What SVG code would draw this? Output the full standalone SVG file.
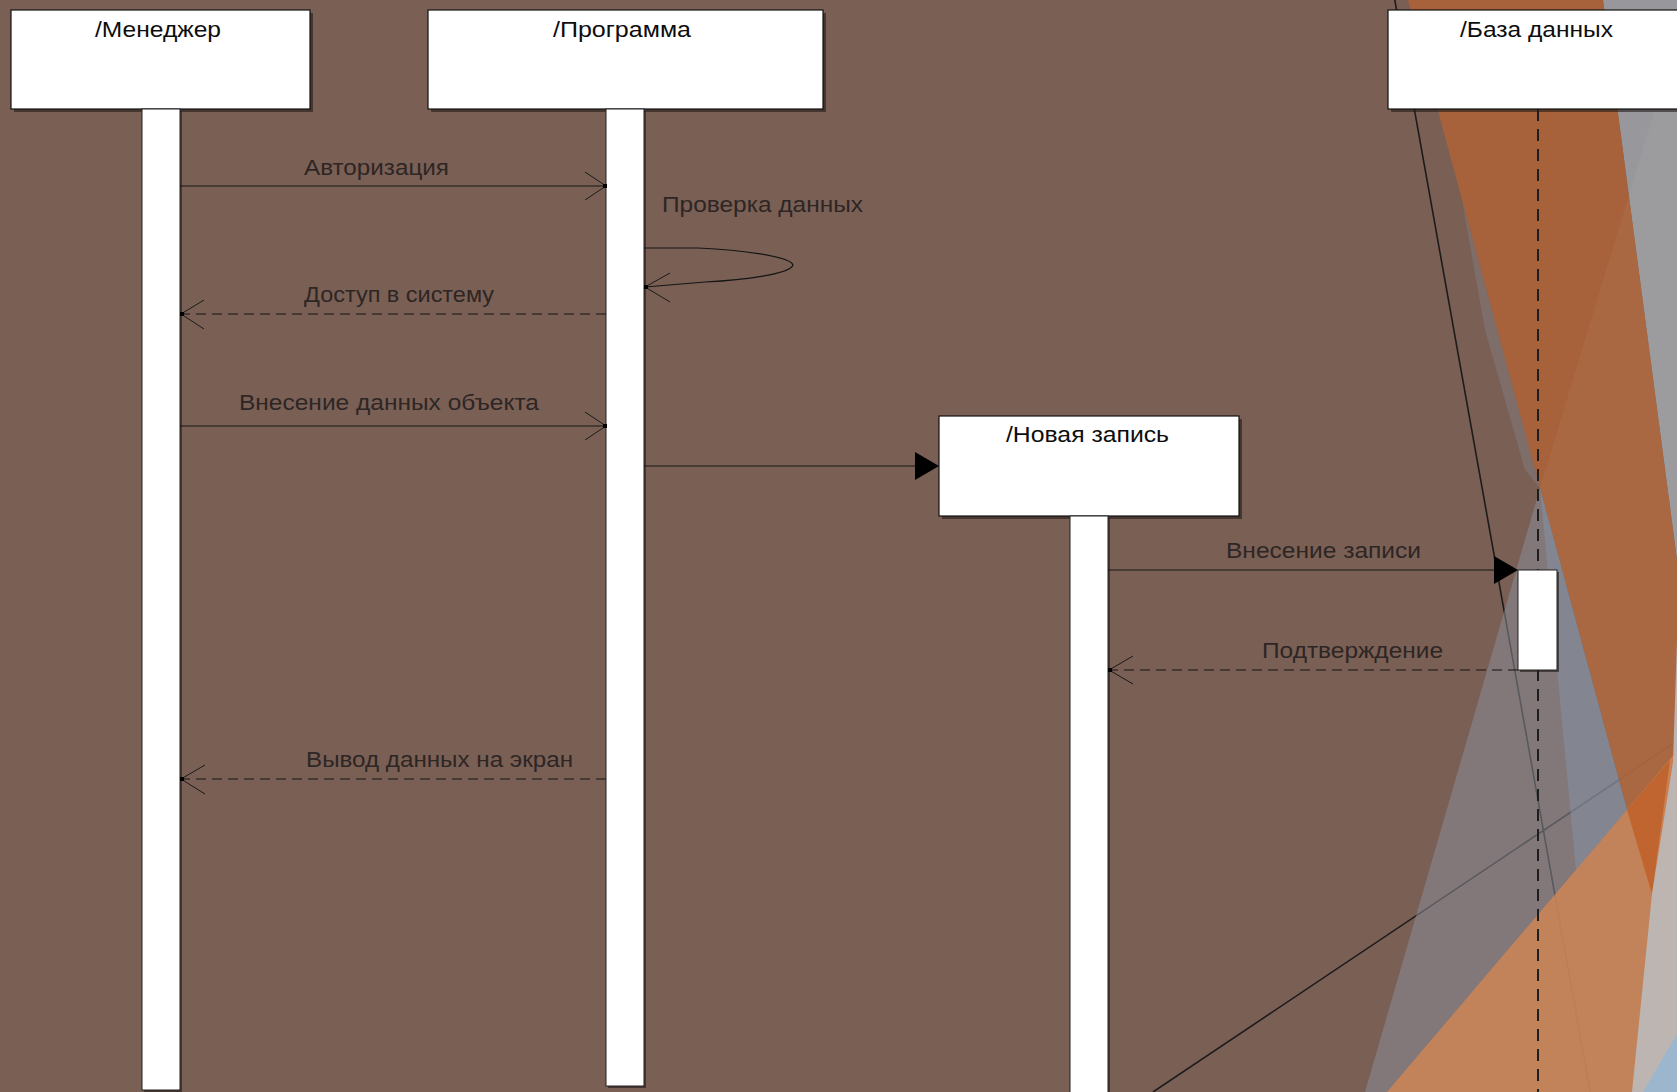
<svg xmlns="http://www.w3.org/2000/svg" width="1677" height="1092" viewBox="0 0 1677 1092">
<defs>
<style>
.box{fill:#fff;stroke:#111;stroke-width:1.2}
.shadow{fill:#231a17;opacity:.6}
.bar{fill:#fff;stroke:#222;stroke-width:1}
.hdr{font-family:"Liberation Sans Narrow","Liberation Sans",Arial,sans-serif;font-size:22px;fill:#0d0d0d}
.lbl{font-family:"Liberation Sans Narrow","Liberation Sans",Arial,sans-serif;font-size:22px;fill:#2d2624}
.msg{stroke:#151515;stroke-width:1.2;fill:none}
.dash{stroke-dasharray:10 6}
.open{stroke:#1a1a1a;stroke-width:1;fill:none}
.tri{fill:#000}
.dot{fill:#000}
</style>
</defs>
<rect width="1677" height="1092" fill="#7a5f55"/>
<g id="background">
  <line x1="1393" y1="-10" x2="1592" y2="1102" stroke="#1c1c1c" stroke-width="1.6"/>
  <line x1="1153" y1="1092" x2="1677" y2="741" stroke="#1c1c1c" stroke-width="1.6"/>
  <polygon points="1603,0 1677,0 1677,560" fill="#98979b"/>
  <polygon points="1408,0 1603,0 1677,560 1677,994" fill="#aa6339" opacity=".92"/>
  <polygon points="1540,488 1677,37 1677,994" fill="#ffffff" opacity=".04"/>
  <polygon points="1462,200 1485,330 1525,470 1540,488" fill="#8a8d97" opacity=".3"/>
  <polygon points="1540,488 1365,1092 1677,1092 1677,994" fill="#8a8d97" opacity=".55"/>
  <polygon points="1540,488 1576,870 1627,810" fill="#8492a7" opacity=".5"/>
  <polygon points="1387,1092 1677,751 1677,1092" fill="#cf8555" opacity=".85"/>
  <polygon points="1627,810 1670,760 1652,894" fill="#c0652f"/>
  <polygon points="1677,640 1673,762 1652,894 1632,1092 1677,1092" fill="#bdb5b1"/>
  <polygon points="1643,1092 1677,1034 1677,1092" fill="#9bb6cd"/>
</g>
<g id="node-manager">
  <rect class="shadow" x="14" y="13" width="299" height="99"/>
  <rect class="box" x="11" y="10" width="299" height="99"/>
  <text class="hdr" x="95" y="37" textLength="126" lengthAdjust="spacingAndGlyphs">/Менеджер</text>
  <rect class="shadow" x="144" y="111" width="38" height="981"/>
  <rect class="bar" x="142" y="109" width="38" height="981"/>
</g>
<g id="node-program">
  <rect class="shadow" x="431" y="13" width="395" height="99"/>
  <rect class="box" x="428" y="10" width="395" height="99"/>
  <text class="hdr" x="553" y="37" textLength="138" lengthAdjust="spacingAndGlyphs">/Программа</text>
  <rect class="shadow" x="608" y="111" width="38" height="977"/>
  <rect class="bar" x="606" y="109" width="38" height="977"/>
</g>
<g id="node-newrecord">
  <rect class="shadow" x="942" y="419" width="300" height="100"/>
  <rect class="box" x="939" y="416" width="300" height="100"/>
  <text class="hdr" x="1006" y="442" textLength="163" lengthAdjust="spacingAndGlyphs">/Новая запись</text>
  <rect class="shadow" x="1072" y="518" width="38" height="580"/>
  <rect class="bar" x="1070" y="516" width="38" height="580"/>
</g>
<g id="node-db">
  <line x1="1538" y1="109" x2="1538" y2="1092" stroke="#1e1e1e" stroke-width="2" stroke-dasharray="12 8"/>
  <rect class="shadow" x="1391" y="13" width="300" height="99"/>
  <rect class="box" x="1388" y="10" width="300" height="99"/>
  <text class="hdr" x="1460" y="37" textLength="153" lengthAdjust="spacingAndGlyphs">/База данных</text>
  <rect class="shadow" x="1520" y="572" width="39" height="100"/>
  <rect class="bar" x="1518" y="570" width="39" height="100"/>
</g>
<g id="connectors">
  <line class="msg" x1="180" y1="186" x2="606" y2="186"/>
  <polyline class="open" points="585,172 606,186 585,200"/>
  <rect class="dot" x="603" y="184" width="4" height="4"/>
  <text class="lbl" x="304" y="175" textLength="145" lengthAdjust="spacingAndGlyphs">Авторизация</text>
  <path class="msg" d="M644,248 L698,248 C740,250 790,256 793,265 C790,274 745,280 705,282 L645,287"/>
  <polyline class="open" points="670,273 645,287 670,302"/>
  <rect class="dot" x="644" y="285" width="4" height="4"/>
  <text class="lbl" x="662" y="212" textLength="201" lengthAdjust="spacingAndGlyphs">Проверка данных</text>
  <line class="msg dash" x1="606" y1="314" x2="180" y2="314"/>
  <polyline class="open" points="204,300 181,314 204,329"/>
  <rect class="dot" x="180" y="312" width="4" height="4"/>
  <text class="lbl" x="304" y="302" textLength="190" lengthAdjust="spacingAndGlyphs">Доступ в систему</text>
  <line class="msg" x1="180" y1="426" x2="606" y2="426"/>
  <polyline class="open" points="585,412 606,426 585,440"/>
  <rect class="dot" x="603" y="424" width="4" height="4"/>
  <text class="lbl" x="239" y="410" textLength="300" lengthAdjust="spacingAndGlyphs">Внесение данных объекта</text>
  <line class="msg" x1="644" y1="466" x2="920" y2="466"/>
  <polygon class="tri" points="915,452 939,466 915,480"/>
  <line class="msg" x1="1108" y1="570" x2="1500" y2="570"/>
  <polygon class="tri" points="1494,556 1518,570 1494,584"/>
  <text class="lbl" x="1226" y="558" textLength="195" lengthAdjust="spacingAndGlyphs">Внесение записи</text>
  <line class="msg dash" x1="1518" y1="670" x2="1108" y2="670"/>
  <polyline class="open" points="1133,656 1109,670 1133,684"/>
  <rect class="dot" x="1108" y="668" width="4" height="4"/>
  <text class="lbl" x="1262" y="658" textLength="181" lengthAdjust="spacingAndGlyphs">Подтверждение</text>
  <line class="msg dash" x1="606" y1="779" x2="180" y2="779"/>
  <polyline class="open" points="205,765 181,779 205,794"/>
  <rect class="dot" x="180" y="777" width="4" height="4"/>
  <text class="lbl" x="306" y="767" textLength="267" lengthAdjust="spacingAndGlyphs">Вывод данных на экран</text>
</g>
</svg>
